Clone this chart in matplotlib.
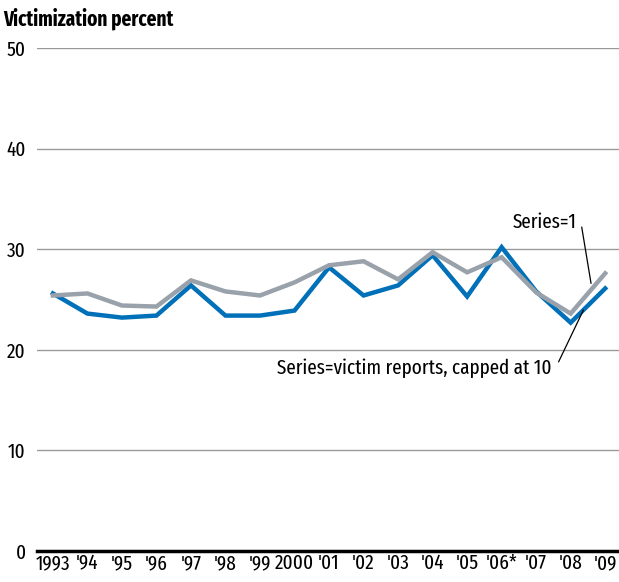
import matplotlib
matplotlib.use('Agg')
import matplotlib.pyplot as plt

plt.rcParams['font.family'] = ['Fira Sans Extra Condensed', 'DejaVu Sans']

years = ['1993', "'94", "'95", "'96", "'97", "'98", "'99", '2000', "'01",
         "'02", "'03", "'04", "'05", "'06*", "'07", "'08", "'09"]
capped = [25.6, 23.6, 23.2, 23.4, 26.4, 23.4, 23.4, 23.9, 28.2,
          25.4, 26.4, 29.4, 25.3, 30.2, 25.8, 22.7, 26.1]
series1 = [25.4, 25.6, 24.4, 24.3, 26.9, 25.8, 25.4, 26.7, 28.4,
           28.8, 27.0, 29.7, 27.7, 29.2, 25.7, 23.6, 27.6]
yticks = [0, 10, 20, 30, 40, 50]

fig = plt.figure(figsize=(6.19, 5.82), dpi=100)
ax = fig.add_axes([0.0598, 0.0533, 0.9402, 0.8642])

x = list(range(len(years)))
ax.plot(x, capped, color='#0070b8', lw=3.2, solid_joinstyle='miter', zorder=3)
ax.plot(x, series1, color='#99a1ab', lw=3.2, solid_joinstyle='miter', zorder=4)

ax.set_ylim(0, 50)
ax.set_xlim(-0.46, 16.4)
ax.set_yticks(yticks)
ax.set_xticks(x)
ax.set_xticklabels(years)
ax.yaxis.grid(True, color='#9a9a9a', lw=1)
ax.set_axisbelow(True)
for s in ['left', 'right', 'top']:
    ax.spines[s].set_visible(False)
ax.spines['bottom'].set_linewidth(2.5)
ax.spines['bottom'].set_zorder(5)
ax.tick_params(axis='both', length=0, labelsize=15)
ax.tick_params(axis='y', pad=8)
ax.tick_params(axis='x', pad=2)

fig.text(0.005, 0.967, 'Victimization percent', fontsize=15, fontweight='bold',
         va='center', ha='left')

# leader-line labels
ax.text(15.19, 32.7, 'Series=1', fontsize=15, ha='right', va='center')
ax.annotate('', xy=(15.59, 26.6), xytext=(15.32, 32.2),
            arrowprops=dict(arrowstyle='-', color='black', lw=0.9,
                            shrinkA=0, shrinkB=0))
ax.text(14.45, 18.2, 'Series=victim reports, capped at 10', fontsize=15,
        ha='right', va='center')
ax.annotate('', xy=(15.37, 23.96), xytext=(14.65, 18.8),
            arrowprops=dict(arrowstyle='-', color='black', lw=0.9,
                            shrinkA=0, shrinkB=0))

fig.savefig('out.png', dpi=100)
